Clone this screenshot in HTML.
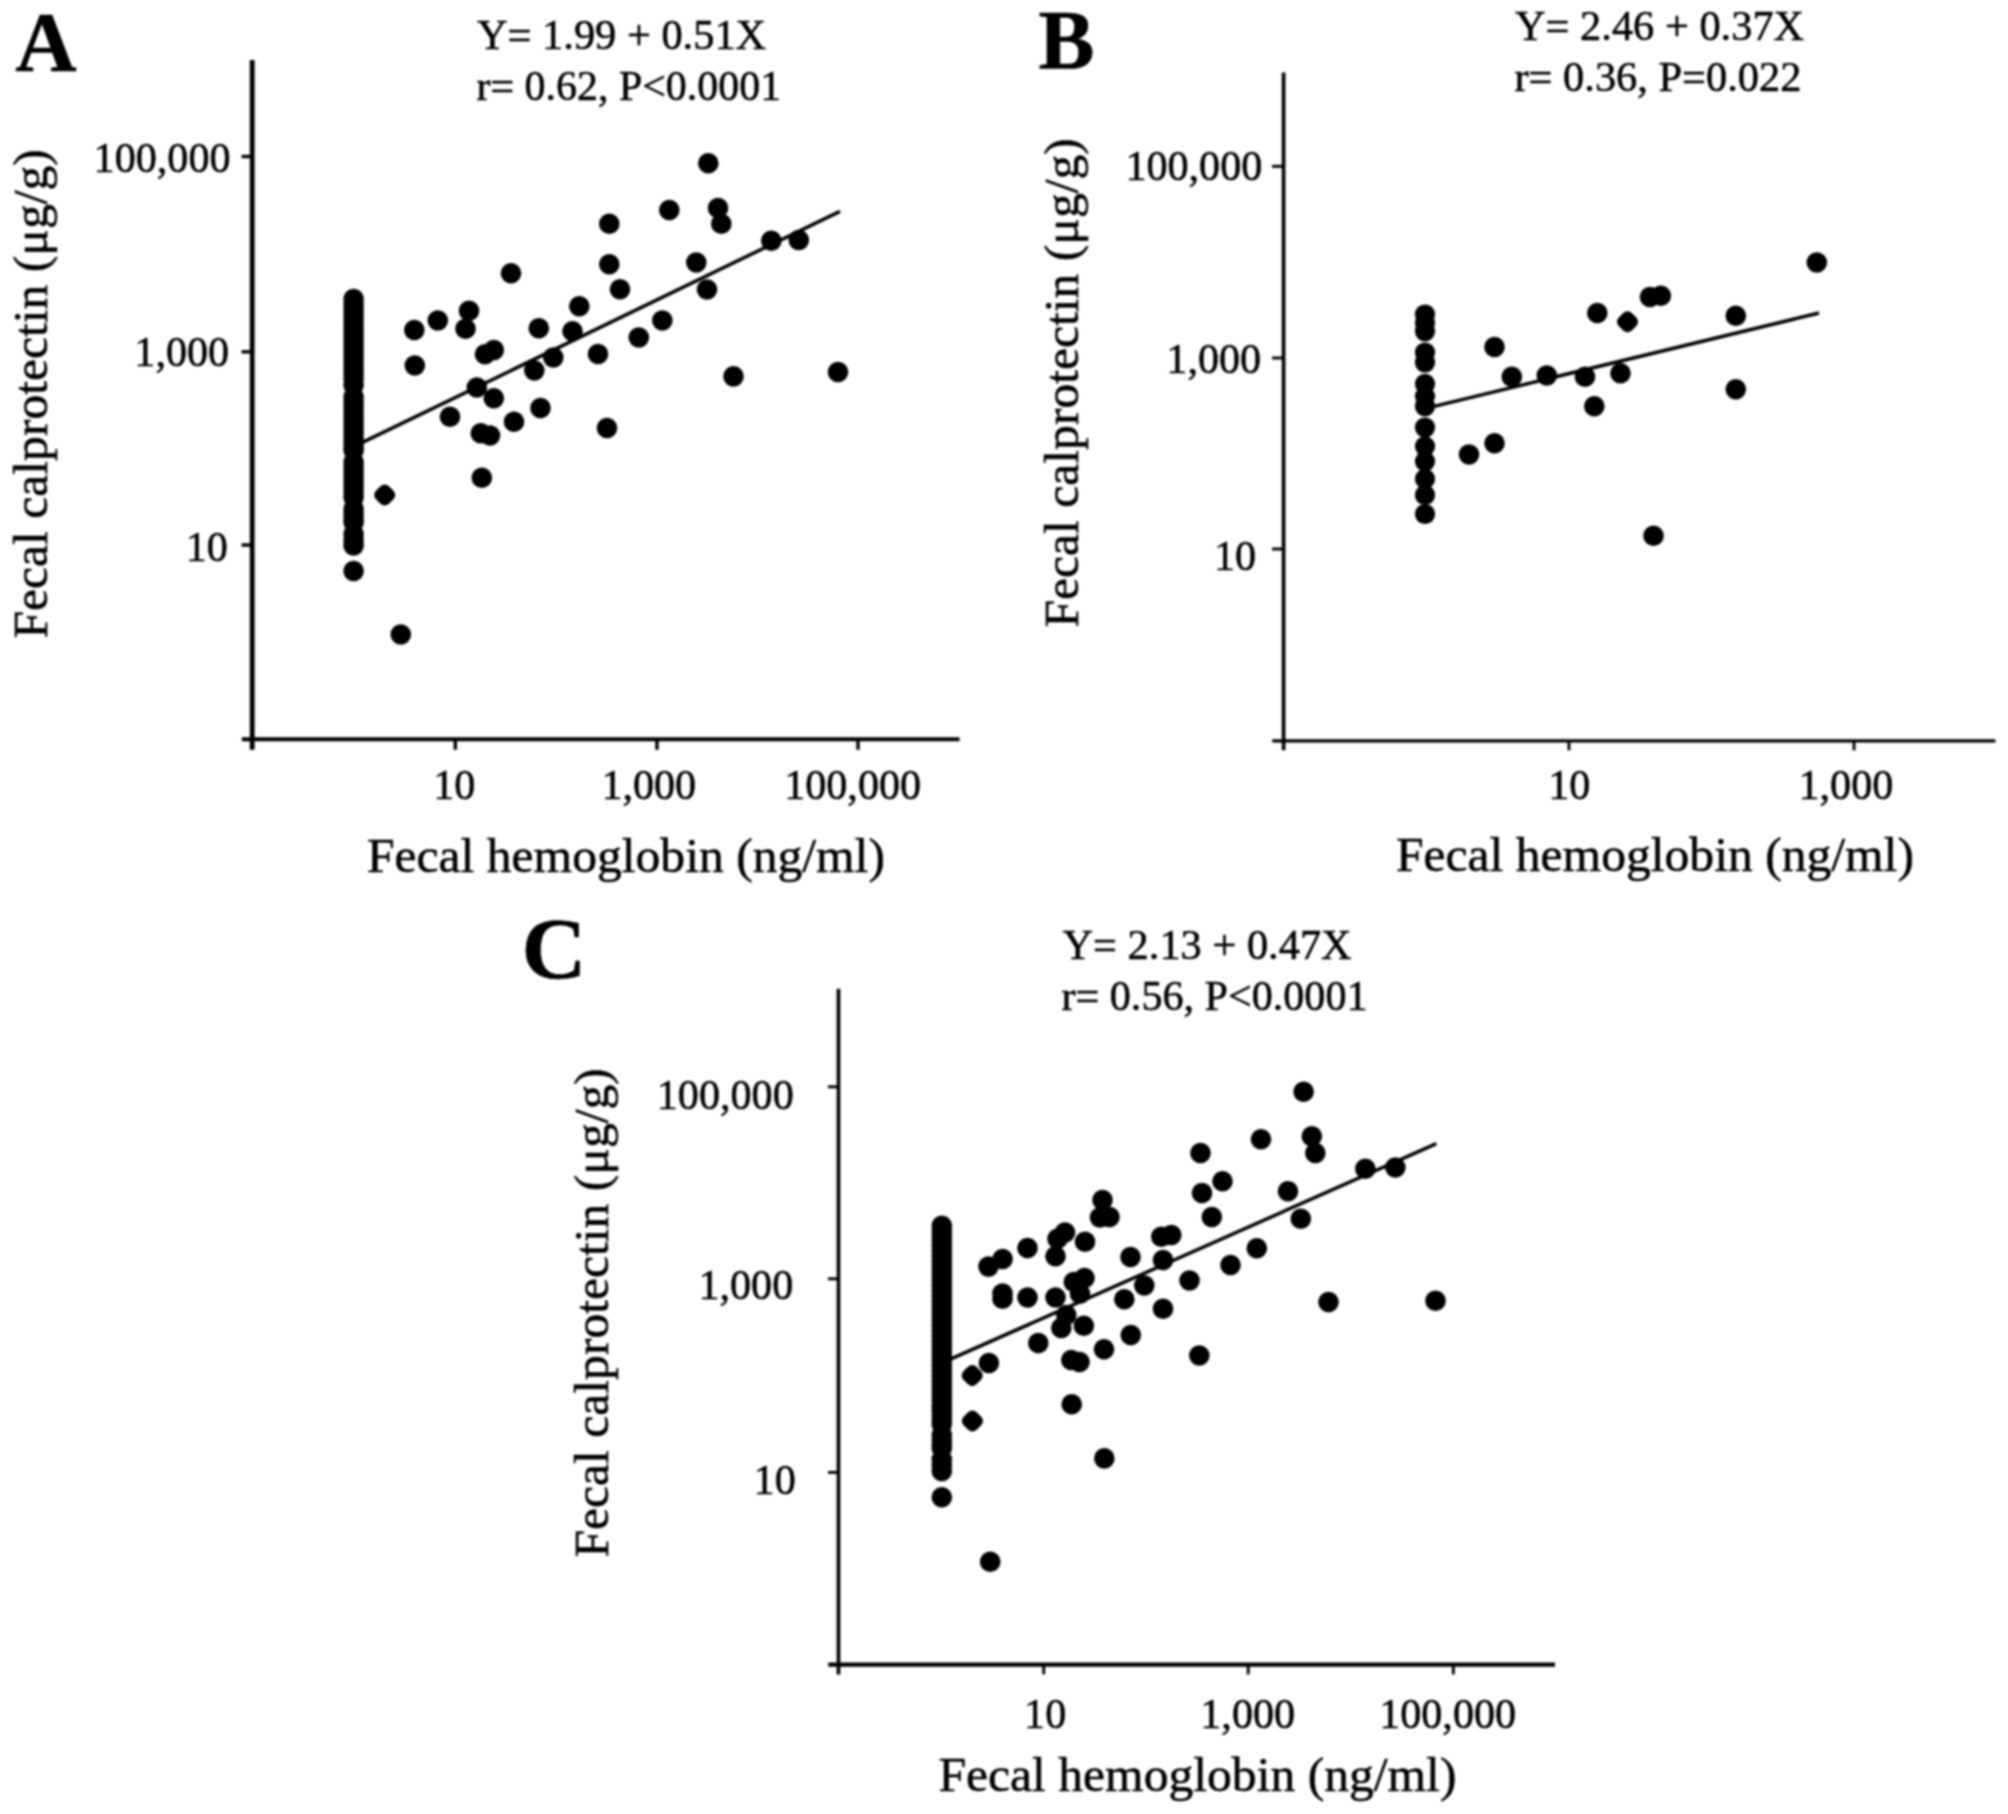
<!DOCTYPE html>
<html lang="en">
<head>
<meta charset="utf-8">
<title>Fecal calprotectin vs fecal hemoglobin</title>
<style>
html,body{margin:0;padding:0;background:#fff;}
body{width:2008px;height:1814px;overflow:hidden;}
svg{display:block;}
text{font-family:"Liberation Serif", "DejaVu Serif", serif;fill:#000;stroke:#000;stroke-width:0.55px;}
</style>
</head>
<body>
<svg width="2008" height="1814" viewBox="0 0 2008 1814">
<defs><filter id="soft" x="0" y="0" width="2008" height="1814" filterUnits="userSpaceOnUse"><feGaussianBlur stdDeviation="0.8"/></filter></defs>
<rect width="2008" height="1814" fill="#fff"/>
<g filter="url(#soft)">
<g>
<line x1="252.2" y1="60" x2="252.2" y2="749.8" stroke="#000" stroke-width="4.8"/>
<line x1="241.8" y1="739.3" x2="959.5" y2="739.3" stroke="#000" stroke-width="4.1"/>
<line x1="241.5" y1="156.5" x2="252.2" y2="156.5" stroke="#000" stroke-width="3.4"/>
<line x1="241.5" y1="351.8" x2="252.2" y2="351.8" stroke="#000" stroke-width="3.4"/>
<line x1="241.5" y1="545" x2="252.2" y2="545" stroke="#000" stroke-width="3.4"/>
<line x1="455.3" y1="739.2" x2="455.3" y2="749.8" stroke="#000" stroke-width="3.4"/>
<line x1="657" y1="739.2" x2="657" y2="749.8" stroke="#000" stroke-width="3.4"/>
<line x1="858" y1="739.2" x2="858" y2="749.8" stroke="#000" stroke-width="3.4"/>
<line x1="361" y1="443.2" x2="840" y2="211.3" stroke="#000" stroke-width="3.5"/>
<circle cx="353.6" cy="299.0" r="10.3"/>
<circle cx="353.6" cy="304.0" r="10.3"/>
<circle cx="353.6" cy="309.0" r="10.3"/>
<circle cx="353.6" cy="314.0" r="10.3"/>
<circle cx="353.6" cy="319.0" r="10.3"/>
<circle cx="353.6" cy="324.0" r="10.3"/>
<circle cx="353.6" cy="329.0" r="10.3"/>
<circle cx="353.6" cy="334.0" r="10.3"/>
<circle cx="353.6" cy="339.0" r="10.3"/>
<circle cx="353.6" cy="344.0" r="10.3"/>
<circle cx="353.6" cy="349.0" r="10.3"/>
<circle cx="353.6" cy="354.0" r="10.3"/>
<circle cx="353.6" cy="359.0" r="10.3"/>
<circle cx="353.6" cy="364.0" r="10.3"/>
<circle cx="353.6" cy="369.0" r="10.3"/>
<circle cx="353.6" cy="374.0" r="10.3"/>
<circle cx="353.6" cy="379.0" r="10.3"/>
<circle cx="353.6" cy="385.0" r="10.3"/>
<circle cx="353.6" cy="397.0" r="10.3"/>
<circle cx="353.6" cy="402.0" r="10.3"/>
<circle cx="353.6" cy="407.0" r="10.3"/>
<circle cx="353.6" cy="412.0" r="10.3"/>
<circle cx="353.6" cy="417.0" r="10.3"/>
<circle cx="353.6" cy="422.0" r="10.3"/>
<circle cx="353.6" cy="427.0" r="10.3"/>
<circle cx="353.6" cy="432.0" r="10.3"/>
<circle cx="353.6" cy="437.0" r="10.3"/>
<circle cx="353.6" cy="442.0" r="10.3"/>
<circle cx="353.6" cy="447.0" r="10.3"/>
<circle cx="353.6" cy="450.0" r="10.3"/>
<circle cx="353.6" cy="462.0" r="10.3"/>
<circle cx="353.6" cy="467.0" r="10.3"/>
<circle cx="353.6" cy="472.0" r="10.3"/>
<circle cx="353.6" cy="477.0" r="10.3"/>
<circle cx="353.6" cy="482.0" r="10.3"/>
<circle cx="353.6" cy="487.0" r="10.3"/>
<circle cx="353.6" cy="492.0" r="10.3"/>
<circle cx="353.6" cy="497.0" r="10.3"/>
<circle cx="353.6" cy="509.0" r="10.3"/>
<circle cx="353.6" cy="514.0" r="10.3"/>
<circle cx="353.6" cy="519.0" r="10.3"/>
<circle cx="353.6" cy="522.0" r="10.3"/>
<circle cx="353.6" cy="534.0" r="10.3"/>
<circle cx="353.6" cy="540.0" r="10.3"/>
<circle cx="353.6" cy="545.5" r="10.3"/>
<circle cx="353.6" cy="571.0" r="10.3"/>
<circle cx="708.3" cy="163.3" r="10.3"/>
<circle cx="669.3" cy="210.0" r="10.3"/>
<circle cx="718.0" cy="208.0" r="10.3"/>
<circle cx="721.3" cy="223.8" r="10.3"/>
<circle cx="609.3" cy="223.8" r="10.3"/>
<circle cx="771.3" cy="240.8" r="10.3"/>
<circle cx="798.8" cy="240.0" r="10.3"/>
<circle cx="696.3" cy="262.5" r="10.3"/>
<circle cx="609.3" cy="264.3" r="10.3"/>
<circle cx="511.0" cy="273.3" r="10.3"/>
<circle cx="620.0" cy="289.3" r="10.3"/>
<circle cx="707.0" cy="289.5" r="10.3"/>
<circle cx="579.3" cy="306.3" r="10.3"/>
<circle cx="469.0" cy="310.8" r="10.3"/>
<circle cx="437.8" cy="320.5" r="10.3"/>
<circle cx="662.3" cy="320.5" r="10.3"/>
<circle cx="414.3" cy="330.0" r="10.3"/>
<circle cx="465.5" cy="328.8" r="10.3"/>
<circle cx="538.8" cy="328.3" r="10.3"/>
<circle cx="572.5" cy="331.3" r="10.3"/>
<circle cx="638.8" cy="337.5" r="10.3"/>
<circle cx="493.8" cy="350.0" r="10.3"/>
<circle cx="485.0" cy="354.3" r="10.3"/>
<circle cx="598.0" cy="354.0" r="10.3"/>
<circle cx="553.3" cy="357.5" r="10.3"/>
<circle cx="414.8" cy="365.5" r="10.3"/>
<circle cx="534.3" cy="370.5" r="10.3"/>
<circle cx="733.5" cy="376.4" r="10.3"/>
<circle cx="838.0" cy="372.0" r="10.3"/>
<circle cx="476.8" cy="387.5" r="10.3"/>
<circle cx="493.8" cy="398.3" r="10.3"/>
<circle cx="540.5" cy="408.0" r="10.3"/>
<circle cx="450.0" cy="416.8" r="10.3"/>
<circle cx="514.0" cy="421.8" r="10.3"/>
<circle cx="607.0" cy="428.0" r="10.3"/>
<circle cx="480.8" cy="433.3" r="10.3"/>
<circle cx="490.0" cy="435.5" r="10.3"/>
<circle cx="481.8" cy="477.7" r="10.3"/>
<circle cx="400.8" cy="634.5" r="10.3"/>
<rect x="375.50" y="485.80" width="18.4" height="18.4" rx="6" transform="rotate(45 384.7 495.0)"/>
</g>
<text x="15.3" y="71" font-size="85" font-weight="bold" stroke="none">A</text>
<text x="477" y="48.7" font-size="42.4">Y= 1.99 + 0.51X</text>
<text x="476.5" y="99.5" font-size="42.4" textLength="304.6" lengthAdjust="spacingAndGlyphs">r= 0.62, P&lt;0.0001</text>
<text x="230.5" y="172.0" font-size="43.2" textLength="136.89" lengthAdjust="spacingAndGlyphs" text-anchor="end">100,000</text>
<text x="229.1" y="365.5" font-size="43.2" textLength="94.77" lengthAdjust="spacingAndGlyphs" text-anchor="end">1,000</text>
<text x="227.9" y="560.6" font-size="43.2" textLength="42.12" lengthAdjust="spacingAndGlyphs" text-anchor="end">10</text>
<text x="433.3" y="798.9" font-size="43.2" textLength="42.12" lengthAdjust="spacingAndGlyphs">10</text>
<text x="601.4" y="798.9" font-size="43.2" textLength="94.77" lengthAdjust="spacingAndGlyphs">1,000</text>
<text x="784.2" y="798.9" font-size="43.2" textLength="136.89" lengthAdjust="spacingAndGlyphs">100,000</text>
<text x="367" y="871.5" font-size="48.8" textLength="517.9" lengthAdjust="spacingAndGlyphs">Fecal hemoglobin (ng/ml)</text>
<text x="47" y="638.5" font-size="48.8" textLength="489.3" lengthAdjust="spacingAndGlyphs" transform="rotate(-90 47 638.5)">Fecal calprotectin (μg/g)</text>
<g>
<line x1="1283.6" y1="72.5" x2="1283.6" y2="750.3" stroke="#000" stroke-width="3.7"/>
<line x1="1272.2" y1="740.9" x2="1995.5" y2="740.9" stroke="#000" stroke-width="3.4"/>
<line x1="1272" y1="166.3" x2="1283.6" y2="166.3" stroke="#000" stroke-width="2.9"/>
<line x1="1272" y1="358" x2="1283.6" y2="358" stroke="#000" stroke-width="2.9"/>
<line x1="1272" y1="549" x2="1283.6" y2="549" stroke="#000" stroke-width="2.9"/>
<line x1="1569" y1="740.9" x2="1569" y2="750.3" stroke="#000" stroke-width="2.9"/>
<line x1="1854" y1="740.9" x2="1854" y2="750.3" stroke="#000" stroke-width="2.9"/>
<line x1="1433" y1="406.6" x2="1819" y2="313" stroke="#000" stroke-width="3.5"/>
<circle cx="1425.0" cy="314.5" r="10.1"/>
<circle cx="1425.0" cy="323.0" r="10.1"/>
<circle cx="1425.0" cy="331.3" r="10.1"/>
<circle cx="1425.0" cy="352.5" r="10.1"/>
<circle cx="1425.0" cy="362.5" r="10.1"/>
<circle cx="1425.0" cy="383.8" r="10.1"/>
<circle cx="1425.0" cy="396.3" r="10.1"/>
<circle cx="1425.0" cy="406.3" r="10.1"/>
<circle cx="1425.0" cy="427.5" r="10.1"/>
<circle cx="1425.0" cy="446.3" r="10.1"/>
<circle cx="1425.0" cy="461.3" r="10.1"/>
<circle cx="1425.0" cy="478.8" r="10.1"/>
<circle cx="1425.0" cy="495.0" r="10.1"/>
<circle cx="1425.0" cy="514.0" r="10.1"/>
<circle cx="1816.8" cy="262.5" r="10.3"/>
<circle cx="1650.0" cy="297.0" r="10.3"/>
<circle cx="1660.8" cy="295.8" r="10.3"/>
<circle cx="1597.3" cy="313.0" r="10.3"/>
<circle cx="1735.8" cy="315.8" r="10.3"/>
<circle cx="1494.5" cy="347.0" r="10.3"/>
<circle cx="1511.8" cy="376.8" r="10.3"/>
<circle cx="1546.8" cy="375.5" r="10.3"/>
<circle cx="1585.0" cy="376.8" r="10.3"/>
<circle cx="1620.5" cy="373.3" r="10.3"/>
<circle cx="1735.8" cy="389.3" r="10.3"/>
<circle cx="1594.3" cy="406.3" r="10.3"/>
<circle cx="1494.5" cy="443.3" r="10.3"/>
<circle cx="1469.0" cy="454.5" r="10.3"/>
<circle cx="1653.5" cy="535.8" r="10.3"/>
<rect x="1618.30" y="312.60" width="18.4" height="18.4" rx="6" transform="rotate(45 1627.5 321.8)"/>
</g>
<text x="1038.5" y="68.7" font-size="84" font-weight="bold" stroke="none">B</text>
<text x="1515" y="40" font-size="42.4">Y= 2.46 + 0.37X</text>
<text x="1514.5" y="91.3" font-size="42.4">r= 0.36, P=0.022</text>
<text x="1262.3" y="180.2" font-size="43.2" textLength="136.89" lengthAdjust="spacingAndGlyphs" text-anchor="end">100,000</text>
<text x="1261.1" y="373.0" font-size="43.2" textLength="94.77" lengthAdjust="spacingAndGlyphs" text-anchor="end">1,000</text>
<text x="1256.1" y="569.6" font-size="43.2" textLength="42.12" lengthAdjust="spacingAndGlyphs" text-anchor="end">10</text>
<text x="1548.3" y="799.2" font-size="43.2" textLength="42.12" lengthAdjust="spacingAndGlyphs">10</text>
<text x="1798.5" y="799.2" font-size="43.2" textLength="94.77" lengthAdjust="spacingAndGlyphs">1,000</text>
<text x="1396" y="870.7" font-size="48.8" textLength="517.9" lengthAdjust="spacingAndGlyphs">Fecal hemoglobin (ng/ml)</text>
<text x="1078.3" y="627.5" font-size="48.8" textLength="489.3" lengthAdjust="spacingAndGlyphs" transform="rotate(-90 1078.3 627.5)">Fecal calprotectin (μg/g)</text>
<g>
<line x1="838.5" y1="988.7" x2="838.5" y2="1674.4" stroke="#000" stroke-width="3.7"/>
<line x1="828.3" y1="1664.6" x2="1555" y2="1664.6" stroke="#000" stroke-width="4.1"/>
<line x1="828" y1="1086.8" x2="838.5" y2="1086.8" stroke="#000" stroke-width="2.9"/>
<line x1="828" y1="1278.8" x2="838.5" y2="1278.8" stroke="#000" stroke-width="2.9"/>
<line x1="828" y1="1472.4" x2="838.5" y2="1472.4" stroke="#000" stroke-width="2.9"/>
<line x1="1043.7" y1="1664.6" x2="1043.7" y2="1674.4" stroke="#000" stroke-width="2.9"/>
<line x1="1248.2" y1="1664.6" x2="1248.2" y2="1674.4" stroke="#000" stroke-width="2.9"/>
<line x1="1453.3" y1="1664.6" x2="1453.3" y2="1674.4" stroke="#000" stroke-width="2.9"/>
<line x1="950.5" y1="1359.2" x2="1436.3" y2="1143.7" stroke="#000" stroke-width="3.5"/>
<circle cx="941.8" cy="1225.7" r="10.3"/>
<circle cx="941.8" cy="1230.7" r="10.3"/>
<circle cx="941.8" cy="1235.7" r="10.3"/>
<circle cx="941.8" cy="1240.7" r="10.3"/>
<circle cx="941.8" cy="1245.7" r="10.3"/>
<circle cx="941.8" cy="1250.7" r="10.3"/>
<circle cx="941.8" cy="1255.7" r="10.3"/>
<circle cx="941.8" cy="1260.7" r="10.3"/>
<circle cx="941.8" cy="1265.7" r="10.3"/>
<circle cx="941.8" cy="1270.7" r="10.3"/>
<circle cx="941.8" cy="1275.7" r="10.3"/>
<circle cx="941.8" cy="1280.7" r="10.3"/>
<circle cx="941.8" cy="1285.7" r="10.3"/>
<circle cx="941.8" cy="1290.7" r="10.3"/>
<circle cx="941.8" cy="1295.7" r="10.3"/>
<circle cx="941.8" cy="1300.7" r="10.3"/>
<circle cx="941.8" cy="1305.7" r="10.3"/>
<circle cx="941.8" cy="1310.7" r="10.3"/>
<circle cx="941.8" cy="1315.7" r="10.3"/>
<circle cx="941.8" cy="1320.7" r="10.3"/>
<circle cx="941.8" cy="1325.7" r="10.3"/>
<circle cx="941.8" cy="1330.7" r="10.3"/>
<circle cx="941.8" cy="1335.7" r="10.3"/>
<circle cx="941.8" cy="1340.7" r="10.3"/>
<circle cx="941.8" cy="1345.7" r="10.3"/>
<circle cx="941.8" cy="1350.7" r="10.3"/>
<circle cx="941.8" cy="1355.7" r="10.3"/>
<circle cx="941.8" cy="1360.7" r="10.3"/>
<circle cx="941.8" cy="1365.7" r="10.3"/>
<circle cx="941.8" cy="1370.7" r="10.3"/>
<circle cx="941.8" cy="1375.7" r="10.3"/>
<circle cx="941.8" cy="1380.7" r="10.3"/>
<circle cx="941.8" cy="1385.7" r="10.3"/>
<circle cx="941.8" cy="1390.7" r="10.3"/>
<circle cx="941.8" cy="1395.7" r="10.3"/>
<circle cx="941.8" cy="1400.7" r="10.3"/>
<circle cx="941.8" cy="1405.7" r="10.3"/>
<circle cx="941.8" cy="1410.7" r="10.3"/>
<circle cx="941.8" cy="1415.7" r="10.3"/>
<circle cx="941.8" cy="1420.7" r="10.3"/>
<circle cx="941.8" cy="1424.0" r="10.3"/>
<circle cx="941.8" cy="1435.0" r="10.3"/>
<circle cx="941.8" cy="1440.0" r="10.3"/>
<circle cx="941.8" cy="1445.0" r="10.3"/>
<circle cx="941.8" cy="1448.0" r="10.3"/>
<circle cx="941.8" cy="1459.5" r="10.3"/>
<circle cx="941.8" cy="1465.0" r="10.3"/>
<circle cx="941.8" cy="1471.0" r="10.3"/>
<circle cx="941.8" cy="1497.3" r="10.3"/>
<circle cx="1303.6" cy="1091.8" r="10.3"/>
<circle cx="1261.0" cy="1139.3" r="10.3"/>
<circle cx="1311.8" cy="1136.3" r="10.3"/>
<circle cx="1315.3" cy="1153.0" r="10.3"/>
<circle cx="1200.5" cy="1153.0" r="10.3"/>
<circle cx="1365.3" cy="1168.8" r="10.3"/>
<circle cx="1395.3" cy="1167.5" r="10.3"/>
<circle cx="1222.5" cy="1181.3" r="10.3"/>
<circle cx="1202.0" cy="1193.0" r="10.3"/>
<circle cx="1288.0" cy="1191.3" r="10.3"/>
<circle cx="1102.5" cy="1200.0" r="10.3"/>
<circle cx="1100.0" cy="1217.5" r="10.3"/>
<circle cx="1109.5" cy="1217.0" r="10.3"/>
<circle cx="1211.8" cy="1217.0" r="10.3"/>
<circle cx="1300.8" cy="1218.8" r="10.3"/>
<circle cx="1065.0" cy="1232.5" r="10.3"/>
<circle cx="1057.5" cy="1238.8" r="10.3"/>
<circle cx="1085.0" cy="1241.8" r="10.3"/>
<circle cx="1161.3" cy="1236.8" r="10.3"/>
<circle cx="1171.3" cy="1235.0" r="10.3"/>
<circle cx="1027.5" cy="1248.0" r="10.3"/>
<circle cx="1256.8" cy="1248.3" r="10.3"/>
<circle cx="1002.6" cy="1259.0" r="10.3"/>
<circle cx="1055.5" cy="1256.3" r="10.3"/>
<circle cx="1130.5" cy="1257.0" r="10.3"/>
<circle cx="1163.0" cy="1260.0" r="10.3"/>
<circle cx="988.5" cy="1266.6" r="10.3"/>
<circle cx="1230.5" cy="1265.0" r="10.3"/>
<circle cx="1084.5" cy="1278.0" r="10.3"/>
<circle cx="1073.8" cy="1282.0" r="10.3"/>
<circle cx="1189.5" cy="1280.5" r="10.3"/>
<circle cx="1144.3" cy="1285.5" r="10.3"/>
<circle cx="1002.5" cy="1293.5" r="10.3"/>
<circle cx="1002.5" cy="1298.8" r="10.3"/>
<circle cx="1027.5" cy="1297.5" r="10.3"/>
<circle cx="1055.5" cy="1297.5" r="10.3"/>
<circle cx="1080.0" cy="1293.8" r="10.3"/>
<circle cx="1124.3" cy="1299.3" r="10.3"/>
<circle cx="1163.0" cy="1308.8" r="10.3"/>
<circle cx="1328.5" cy="1302.0" r="10.3"/>
<circle cx="1435.5" cy="1300.8" r="10.3"/>
<circle cx="1066.3" cy="1315.0" r="10.3"/>
<circle cx="1083.8" cy="1325.8" r="10.3"/>
<circle cx="1061.3" cy="1328.0" r="10.3"/>
<circle cx="1130.8" cy="1335.0" r="10.3"/>
<circle cx="1038.3" cy="1343.0" r="10.3"/>
<circle cx="1104.0" cy="1349.3" r="10.3"/>
<circle cx="1199.3" cy="1355.5" r="10.3"/>
<circle cx="1071.3" cy="1360.0" r="10.3"/>
<circle cx="1079.5" cy="1362.0" r="10.3"/>
<circle cx="988.9" cy="1363.0" r="10.3"/>
<circle cx="1071.7" cy="1404.2" r="10.3"/>
<circle cx="1104.3" cy="1458.4" r="10.3"/>
<circle cx="990.2" cy="1561.7" r="10.3"/>
<rect x="963.00" y="1366.40" width="18.4" height="18.4" rx="6" transform="rotate(45 972.2 1375.6)"/>
<rect x="963.20" y="1411.80" width="18.4" height="18.4" rx="6" transform="rotate(45 972.4 1421.0)"/>
</g>
<text x="521.6" y="977.7" font-size="87" textLength="65" lengthAdjust="spacingAndGlyphs" font-weight="bold" stroke="none">C</text>
<text x="1062.5" y="958.7" font-size="42.4">Y= 2.13 + 0.47X</text>
<text x="1061.5" y="1009.5" font-size="42.4" textLength="306" lengthAdjust="spacingAndGlyphs">r= 0.56, P&lt;0.0001</text>
<text x="793.7" y="1108.5" font-size="43.2" textLength="136.89" lengthAdjust="spacingAndGlyphs" text-anchor="end">100,000</text>
<text x="793.2" y="1299.0" font-size="43.2" textLength="94.77" lengthAdjust="spacingAndGlyphs" text-anchor="end">1,000</text>
<text x="795.7" y="1493.5" font-size="43.2" textLength="42.12" lengthAdjust="spacingAndGlyphs" text-anchor="end">10</text>
<text x="1024.1" y="1727.6" font-size="43.2" textLength="42.12" lengthAdjust="spacingAndGlyphs">10</text>
<text x="1200.3" y="1727.6" font-size="43.2" textLength="94.77" lengthAdjust="spacingAndGlyphs">1,000</text>
<text x="1379.2" y="1727.6" font-size="43.2" textLength="136.89" lengthAdjust="spacingAndGlyphs">100,000</text>
<text x="938.5" y="1790.5" font-size="48.8" textLength="517.9" lengthAdjust="spacingAndGlyphs">Fecal hemoglobin (ng/ml)</text>
<text x="608.3" y="1557.5" font-size="48.8" textLength="489.3" lengthAdjust="spacingAndGlyphs" transform="rotate(-90 608.3 1557.5)">Fecal calprotectin (μg/g)</text>
</g>
</svg>
</body>
</html>
